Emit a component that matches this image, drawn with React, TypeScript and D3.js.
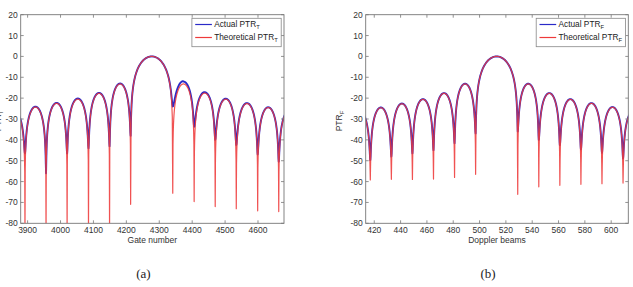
import React from 'react';
import * as d3 from 'd3';

// Range profile (gate number): null positions, lobe peaks and null depths in dB
const gateNulls = [3828, 3892, 3956, 4020, 4085, 4149, 4213, 4341, 4406, 4470, 4534, 4599, 4663, 4727];
const gateTheoPeaks = [-26.3, -24.3, -22.5, -20.5, -17.7, -13.2, 0, -13.2, -17.6, -20.5, -22.6, -24.5, -26.2];
const gateActualPeaks = [-26.0, -24.1, -22.3, -20.2, -17.5, -13.0, 0, -12.1, -17.2, -20.3, -22.4, -24.4, -26.0];
const gateTheoDepths = [-85, -85, -85, -85, -85, -85, -70.9, -65.6, -69.6, -72, -73, -74, -74.4, -75];
const gateActualDepths = [-45, -46.5, -56, -46.5, -44, -43, -38, -24, -33.7, -40, -42.5, -47, -50.5, -50];

// Azimuth profile (Doppler beams)
const beamNulls = [401, 417, 433, 449, 465, 481, 497, 529, 545, 561, 577, 593, 609, 625];
const beamTheoPeaks = [-26.3, -24.6, -22.7, -20.6, -17.7, -13.2, 0, -13.2, -17.7, -20.6, -22.5, -24.4, -26.2];
const beamActualPeaks = [-26.2, -24.5, -22.6, -20.5, -17.6, -13.1, 0, -13.1, -17.6, -20.5, -22.4, -24.3, -26.1];
const beamTheoDepths = [-60, -59.2, -58.9, -59, -58.8, -58, -56.5, -66.1, -62.5, -61.8, -61.3, -61, -60.7, -60];
const beamActualDepths = [-50, -49.7, -48, -46.5, -44.9, -41.6, -36.9, -36, -40, -42.5, -44.6, -46.2, -48.9, -50];

const gateTicks = [3900, 4000, 4100, 4200, 4300, 4400, 4500, 4600];
const beamTicks = [420, 440, 460, 480, 500, 520, 540, 560, 580, 600];
const ptrTicks = [-80, -70, -60, -50, -40, -30, -20, -10, 0, 10, 20];

const BLUE = '#2a2ac8';
const RED = '#ee3a3a';
const FONT = 'Liberation Sans, Arial, sans-serif';

type Pt = [number, number];

// Builds one continuous trace out of lobes: each lobe spans two nulls,
// rising to its peak and bottoming out at the given null depths.
function lobeTrace(nulls: number[], peaks: number[], depths: number[]): Pt[] {
  const pts: Pt[] = [];
  const N = 90;
  peaks.forEach((p, i) => {
    const a = nulls[i];
    const b = nulls[i + 1];
    for (let k = 0; k <= N; k++) {
      const t = k / N;
      const d = t < 0.5 ? depths[i] : depths[i + 1];
      const floor = Math.pow(10, (d - p) / 10);
      const s = Math.sin(Math.PI * t);
      pts.push([a + t * (b - a), p + 10 * Math.log10(s * s + floor)]);
    }
  });
  return pts;
}

interface PanelProps {
  id: string;
  left: number;
  right: number;
  domain: [number, number];
  ticks: number[];
  xLabel: string;
  yLabel: string;
  yLabelX: number;
  sub: string;
  caption: string;
  actual: Pt[];
  theo: Pt[];
}

const top = 14.7;
const bottom = 223.3;

function Panel(p: PanelProps) {
  const x = d3.scaleLinear().domain(p.domain).range([p.left, p.right]);
  const y = d3.scaleLinear().domain([-80, 20]).range([bottom, top]);
  const line = d3.line<Pt>().x(d => x(d[0])).y(d => y(d[1]));
  const tl = 3;
  const mid = (p.left + p.right) / 2;

  // legend box anchored to the top-right corner
  const lw = 89.3;
  const lx = p.right - 2.8 - lw;
  const ly = 18.3;

  return (
    <g>
      <defs>
        <clipPath id={p.id}>
          <rect x={p.left} y={top} width={p.right - p.left} height={bottom - top} />
        </clipPath>
      </defs>
      <rect x={p.left} y={top} width={p.right - p.left} height={bottom - top} fill="#fff" />
      <g clipPath={`url(#${p.id})`} fill="none" strokeLinejoin="round">
        <path d={line(p.actual) ?? ''} stroke={BLUE} strokeWidth={1.9} />
        <path d={line(p.theo) ?? ''} stroke={RED} strokeWidth={1.2} strokeOpacity={0.88} />
      </g>
      <rect x={p.left} y={top} width={p.right - p.left} height={bottom - top}
        fill="none" stroke="#777" strokeWidth={0.9} />
      {p.ticks.map(t => (
        <g key={'x' + t}>
          <line x1={x(t)} x2={x(t)} y1={bottom} y2={bottom - tl} stroke="#777" strokeWidth={0.8} />
          <line x1={x(t)} x2={x(t)} y1={top} y2={top + tl} stroke="#777" strokeWidth={0.8} />
          <text x={x(t)} y={232.5} textAnchor="middle" fontSize={8.5} fill="#333">{String(t)}</text>
        </g>
      ))}
      {ptrTicks.map(t => (
        <g key={'y' + t}>
          <line x1={p.left} x2={p.left + tl} y1={y(t)} y2={y(t)} stroke="#777" strokeWidth={0.8} />
          <line x1={p.right} x2={p.right - tl} y1={y(t)} y2={y(t)} stroke="#777" strokeWidth={0.8} />
          <text x={p.left - 3} y={y(t)} dy="0.35em" textAnchor="end" fontSize={8.5} fill="#333">{String(t)}</text>
        </g>
      ))}
      <text x={mid} y={242.5} textAnchor="middle" fontSize={8.5} fill="#333">{p.xLabel}</text>
      <text transform={`translate(${p.yLabelX},${(top + bottom) / 2 + 2}) rotate(-90)`}
        textAnchor="middle" fontSize={8.5} fill="#333">
        {p.yLabel}<tspan fontSize={6} dy={2}>{p.sub}</tspan>
      </text>

      <rect x={lx} y={ly} width={lw} height={28.4} fill="#fff" stroke="#888" strokeWidth={0.8} />
      <line x1={lx + 3.3} x2={lx + 20} y1={ly + 6.2} y2={ly + 6.2} stroke={BLUE} strokeWidth={1.2} />
      <line x1={lx + 3.3} x2={lx + 20} y1={ly + 19.2} y2={ly + 19.2} stroke={RED} strokeWidth={1.2} />
      <text x={lx + 22.3} y={ly + 6.2} dy="0.35em" fontSize={8.3} fill="#222">
        Actual PTR<tspan fontSize={5.8} dy={2}>{p.sub}</tspan>
      </text>
      <text x={lx + 22.3} y={ly + 19.2} dy="0.35em" fontSize={8.3} fill="#222">
        Theoretical PTR<tspan fontSize={5.8} dy={2}>{p.sub}</tspan>
      </text>

      <text x={mid - 9} y={278} textAnchor="middle" fontSize={13}
        fontFamily="Liberation Serif, DejaVu Serif, serif" fill="#222">{p.caption}</text>
    </g>
  );
}

export default function App() {
  const gateActual = lobeTrace(gateNulls, gateActualPeaks, gateActualDepths);
  const gateTheo = lobeTrace(gateNulls, gateTheoPeaks, gateTheoDepths);
  const beamActual = lobeTrace(beamNulls, beamActualPeaks, beamActualDepths);
  const beamTheo = lobeTrace(beamNulls, beamTheoPeaks, beamTheoDepths);

  return (
    <div style={{ position: 'absolute', left: 0, top: 0 }}>
      <svg width={633} height={287} fontFamily={FONT} style={{ display: 'block', background: '#fff' }}>
        {/* left panel's y label sits at the page edge, mostly outside */}
        <Panel id="clipA" left={20.7} right={284} domain={[3879, 4679]} ticks={gateTicks}
          xLabel="Gate number" yLabel="PTR" sub="T" yLabelX={1} caption="(a)"
          actual={gateActual} theo={gateTheo} />
        <Panel id="clipB" left={365.7} right={628.3} domain={[413.5, 613]} ticks={beamTicks}
          xLabel="Doppler beams" yLabel="PTR" sub="F" yLabelX={342} caption="(b)"
          actual={beamActual} theo={beamTheo} />
      </svg>
    </div>
  );
}
